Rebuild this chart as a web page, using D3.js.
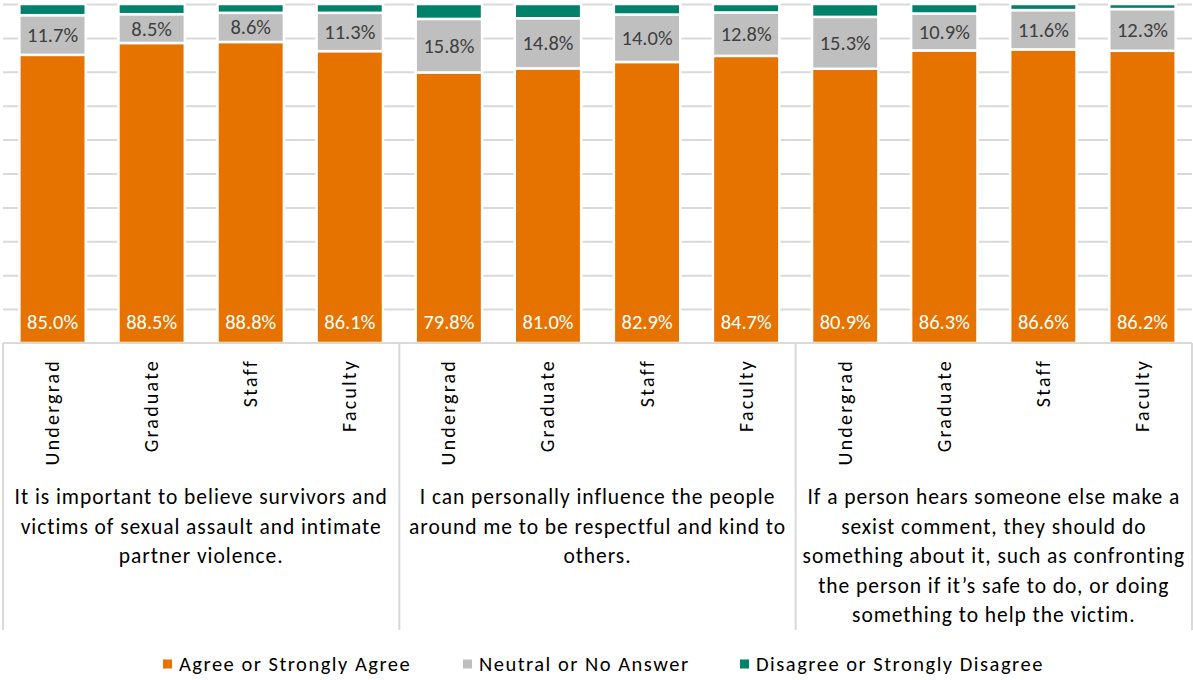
<!DOCTYPE html>
<html>
<head>
<meta charset="utf-8">
<script src="https://cdn.jsdelivr.net/npm/d3@7"></script>
<style>
  html, body { margin: 0; padding: 0; background: #fff; }
  svg { display: block; }
  text { font-family: Carlito, Calibri, Lato, "Open Sans", sans-serif; }
</style>
</head>
<body>
<svg id="chart" width="1193" height="680"></svg>
<script>
// ---- data ----
const groups = ["Q1", "Q2", "Q3"];
const categories = ["Undergrad", "Graduate", "Staff", "Faculty"];
const agree    = [85.0, 88.5, 88.8, 86.1, 79.8, 81.0, 82.9, 84.7, 80.9, 86.3, 86.6, 86.2];
const neutral  = [11.7, 8.5, 8.6, 11.3, 15.8, 14.8, 14.0, 12.8, 15.3, 10.9, 11.6, 12.3];
const disagree = [3.3, 3.0, 2.6, 2.6, 4.4, 4.2, 3.1, 2.5, 3.8, 2.8, 1.8, 1.5];
const seriesNames = ["Agree or Strongly Agree", "Neutral or No Answer", "Disagree or Strongly Disagree"];
const seriesColors = ["#E67300", "#BFBFBF", "#008169"];
const questionLines = [
  ["It is important to believe survivors and", "victims of sexual assault and intimate", "partner violence."],
  ["I can personally influence the people", "around me to be respectful and kind to", "others."],
  ["If a person hears someone else make a", "sexist comment, they should do", "something about it, such as confronting", "the person if it\u2019s safe to do, or doing", "something to help the victim."]
];
const yTicks = [0, 10, 20, 30, 40, 50, 60, 70, 80, 90, 100];

// ---- build rows ----
const rows = [];
groups.forEach((g, gi) => categories.forEach((c, ci) => {
  const i = gi * categories.length + ci;
  rows.push({ key: g + "|" + c, group: g, cat: c, agree: agree[i], neutral: neutral[i], disagree: disagree[i] });
}));
const keys = ["agree", "neutral", "disagree"];

// ---- layout ----
const svg = d3.select("#chart");
const plotLeft = 3, plotRight = 1192, plotTop = 4, axisY = 343, bottomLine = 630;

const x = d3.scaleBand().domain(rows.map(d => d.key)).range([plotLeft, plotRight]).paddingInner(0.33).paddingOuter(0.165);
const y = d3.scaleLinear().domain([0, 100]).range([axisY, plotTop]);

// gridlines
const grid = svg.append("g").attr("transform", `translate(${plotLeft},0)`)
  .call(d3.axisLeft(y).tickValues(yTicks.slice(1)).tickSize(-(plotRight - plotLeft)).tickFormat(""));
grid.select(".domain").remove();
grid.selectAll(".tick line").attr("stroke", "#D9D9D9").attr("stroke-width", 2);

// stacked bars
const stack = d3.stack().keys(keys)(rows);
const layers = svg.append("g").selectAll("g").data(stack).join("g")
  .attr("fill", (d, i) => seriesColors[i]);
layers.selectAll("rect").data(d => d).join("rect")
  .attr("x", d => x(d.data.key))
  .attr("width", x.bandwidth())
  .attr("y", d => y(d[1]))
  .attr("height", d => y(d[0]) - y(d[1]))
  .attr("stroke", "#fff").attr("stroke-width", 2.5);

// labels: agree (inside base)
svg.append("g").selectAll("text").data(rows).join("text")
  .attr("x", d => x(d.key) + x.bandwidth() / 2)
  .attr("y", y(0) - 21)
  .attr("text-anchor", "middle").attr("dominant-baseline", "central")
  .attr("font-size", 20.5).attr("fill", "#fff")
  .text(d => d.agree.toFixed(1) + "%");
// labels: neutral (center)
svg.append("g").selectAll("text").data(rows).join("text")
  .attr("x", d => x(d.key) + x.bandwidth() / 2)
  .attr("y", d => y(d.agree + d.neutral / 2))
  .attr("text-anchor", "middle").attr("dominant-baseline", "central")
  .attr("font-size", 20.5).attr("fill", "#404040")
  .text(d => d.neutral.toFixed(1) + "%");

// x axis line
svg.append("line").attr("x1", plotLeft).attr("x2", plotRight).attr("y1", axisY).attr("y2", axisY)
  .attr("stroke", "#D9D9D9").attr("stroke-width", 2);
// group dividers
const step = x.step();
const dividers = [0, 1, 2, 3].map(k => plotLeft + k * categories.length * step);
svg.append("g").selectAll("line").data(dividers).join("line")
  .attr("x1", d => d).attr("x2", d => d).attr("y1", axisY).attr("y2", bottomLine)
  .attr("stroke", "#D9D9D9").attr("stroke-width", 2);

// category labels (rotated)
svg.append("g").selectAll("text").data(rows).join("text")
  .attr("transform", d => `translate(${x(d.key) + x.bandwidth() / 2 + 6.5},359) rotate(-90)`)
  .attr("text-anchor", "end")
  .attr("font-size", 20).attr("letter-spacing", 2.2).attr("fill", "#000")
  .text(d => d.cat);

// question labels
groups.forEach((g, gi) => {
  const cx = plotLeft + (gi + 0.5) * categories.length * step;
  svg.append("text")
    .attr("x", cx).attr("y", 497)
    .attr("text-anchor", "middle").attr("dominant-baseline", "central")
    .attr("font-size", 21.5).attr("letter-spacing", 0.95).attr("fill", "#000")
    .selectAll("tspan").data(questionLines[gi]).join("tspan")
    .attr("x", cx).attr("dy", (d, i) => i === 0 ? 0 : 29.5)
    .text(d => d);
});

// legend
const legendX = [163, 463, 740];
const lg = svg.append("g").selectAll("g").data(seriesNames).join("g")
  .attr("transform", (d, i) => `translate(${legendX[i]},664)`);
lg.append("rect").attr("x", 0).attr("y", -4.5).attr("width", 9).attr("height", 9)
  .attr("fill", (d, i) => seriesColors[i]);
lg.append("text").attr("x", 16).attr("y", 0).attr("dominant-baseline", "central")
  .attr("font-size", 20.5).attr("letter-spacing", 1.5).attr("fill", "#000")
  .text(d => d);
</script>
</body>
</html>
